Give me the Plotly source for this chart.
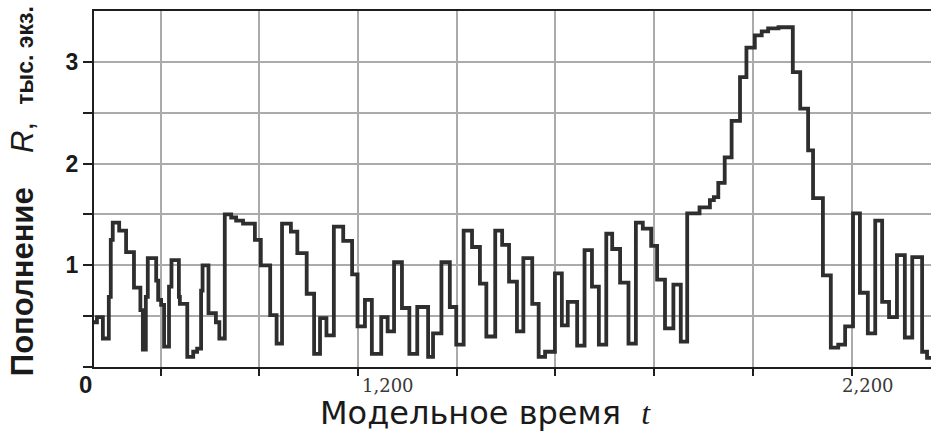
import plotly.graph_objects as go

# ---- data ----
t_model = [665, 671, 683, 695, 699, 703, 716, 730, 746, 759, 764, 770, 774, 791, 795, 801,
           807, 817, 822, 837, 839, 854, 866, 874, 882, 885, 897, 912, 919, 930, 943, 953,
           967, 991, 1003, 1022, 1035, 1046, 1064, 1077, 1096, 1111, 1123, 1136, 1151, 1170,
           1188, 1199, 1214, 1228, 1247, 1260, 1273, 1289, 1304, 1320, 1342, 1352, 1369, 1386,
           1399, 1414, 1431, 1447, 1460, 1478, 1492, 1506, 1522, 1535, 1553, 1566, 1579, 1599,
           1613, 1625, 1644, 1659, 1674, 1688, 1703, 1715, 1731, 1748, 1763, 1777, 1794, 1806,
           1822, 1839, 1854, 1867, 1892, 1913, 1921, 1930, 1943, 1957, 1974, 1987, 2004, 2018,
           2031, 2052, 2081, 2096, 2112, 2122, 2142, 2158, 2173, 2187, 2203, 2217, 2233, 2248,
           2262, 2276, 2292, 2308, 2323, 2343, 2353, 2361]
recruitment = [0.44, 0.49, 0.28, 0.69, 1.25, 1.42, 1.34, 1.13, 0.78, 0.56, 0.17, 0.69, 1.07, 0.85, 0.66, 0.61,
               0.20, 0.79, 1.05, 0.69, 0.62, 0.10, 0.15, 0.18, 0.75, 1.00, 0.53, 0.44, 0.28, 1.50, 1.47, 1.44,
               1.41, 1.25, 1.00, 0.51, 0.23, 1.41, 1.33, 1.12, 0.72, 0.13, 0.48, 0.31, 1.38, 1.24,
               0.91, 0.40, 0.66, 0.13, 0.49, 0.35, 1.03, 0.58, 0.13, 0.59, 0.10, 0.33, 1.03, 0.59,
               0.22, 1.34, 1.18, 0.82, 0.30, 1.34, 1.20, 0.84, 0.35, 1.07, 0.62, 0.10, 0.15, 0.92,
               0.41, 0.64, 0.21, 1.15, 0.79, 0.22, 1.31, 1.16, 0.83, 0.23, 1.42, 1.36, 1.19, 0.86,
               0.38, 0.81, 0.25, 1.51, 1.57, 1.64, 1.67, 1.81, 2.06, 2.42, 2.85, 3.14, 3.26, 3.30,
               3.33, 3.34, 2.90, 2.54, 2.13, 1.66, 0.90, 0.19, 0.22, 0.40, 1.51, 0.73, 0.33, 1.44,
               0.64, 0.49, 1.10, 0.29, 1.08, 0.15, 0.09, 0.09]

x_grid = [800, 1000, 1200, 1400, 1600, 1800, 2000, 2200]
x_label_vals = [1200, 2200]
x_label_text = ["1,200", "2,200"]
y_ticks = [0, 0.5, 1.0, 1.5, 2.0, 2.5, 3.0]
y_tick_text = ["", "", "1", "", "2", "", "3"]

AX = "#1e1e1e"
GRID = "#ababab"

fig = go.Figure()
fig.add_trace(go.Scatter(x=t_model, y=recruitment, mode="lines", line_shape="hv",
                         line=dict(color="#2e2e2e", width=3.8), showlegend=False,
                         hoverinfo="skip"))

fig.update_layout(
    width=931, height=432,
    margin=dict(l=94, r=0, t=11, b=65),
    paper_bgcolor="white", plot_bgcolor="white",
    font=dict(family="Liberation Sans", color="#1a1a1a"),
    xaxis=dict(range=[665, 2361], tickvals=x_grid, showticklabels=False,
               ticks="outside", ticklen=7, tickwidth=1.5, tickcolor=AX,
               showline=True, linecolor=AX, linewidth=2, mirror=True,
               showgrid=True, gridcolor=GRID, gridwidth=1.5, zeroline=False),
    yaxis=dict(range=[0, 3.5], tickvals=y_ticks, ticktext=y_tick_text,
               ticks="outside", ticklen=9, tickwidth=2, tickcolor=AX,
               tickfont=dict(family="Liberation Sans", size=23, color="#1a1a1a", weight="bold"),
               showline=True, linecolor=AX, linewidth=2,
               showgrid=True, gridcolor=GRID, gridwidth=1.5, zeroline=False),
)

# origin label
fig.add_annotation(text="0", xref="paper", yref="paper", x=0, y=0, xanchor="right",
                   yanchor="middle", yshift=-17, showarrow=False,
                   font=dict(family="Liberation Sans", size=24, color="#1a1a1a", weight="bold"))

# x tick labels (offset as in the reference)
for v, txt, dx in zip(x_label_vals, x_label_text, [30, 16]):
    fig.add_annotation(text=txt, xref="x", yref="paper", x=v, y=0, xanchor="center",
                       yanchor="middle", xshift=dx, yshift=-18, showarrow=False,
                       font=dict(family="DejaVu Serif", size=18, color="#3a3a3a"))

# x axis title
fig.add_annotation(
    text="Модельное время\u00a0 <span style='font-family:Liberation Serif'><i>t</i></span>",
    xref="paper", yref="paper", x=(485 - 94) / 837, y=0, xanchor="center", yanchor="middle",
    yshift=-46, showarrow=False,
    font=dict(family="DejaVu Sans", size=32, color="#1a1a1a"))

# y axis title
nb = "\u00a0"
fig.add_annotation(
    text="<b>Пополнение</b>" + nb * 4 + "<i>R</i>," + nb * 2 +
         "<b><span style='font-size:23px'>тыс. экз.</span></b>",
    xref="paper", yref="paper", x=(22 - 94) / 837, y=0.494, xanchor="center", yanchor="middle",
    textangle=-90, showarrow=False,
    font=dict(family="Liberation Sans", size=31, color="#1a1a1a"))

fig.write_html("out.html", config={"displayModeBar": False},
               post_script="document.body.style.margin='0';document.body.style.padding='0';")
